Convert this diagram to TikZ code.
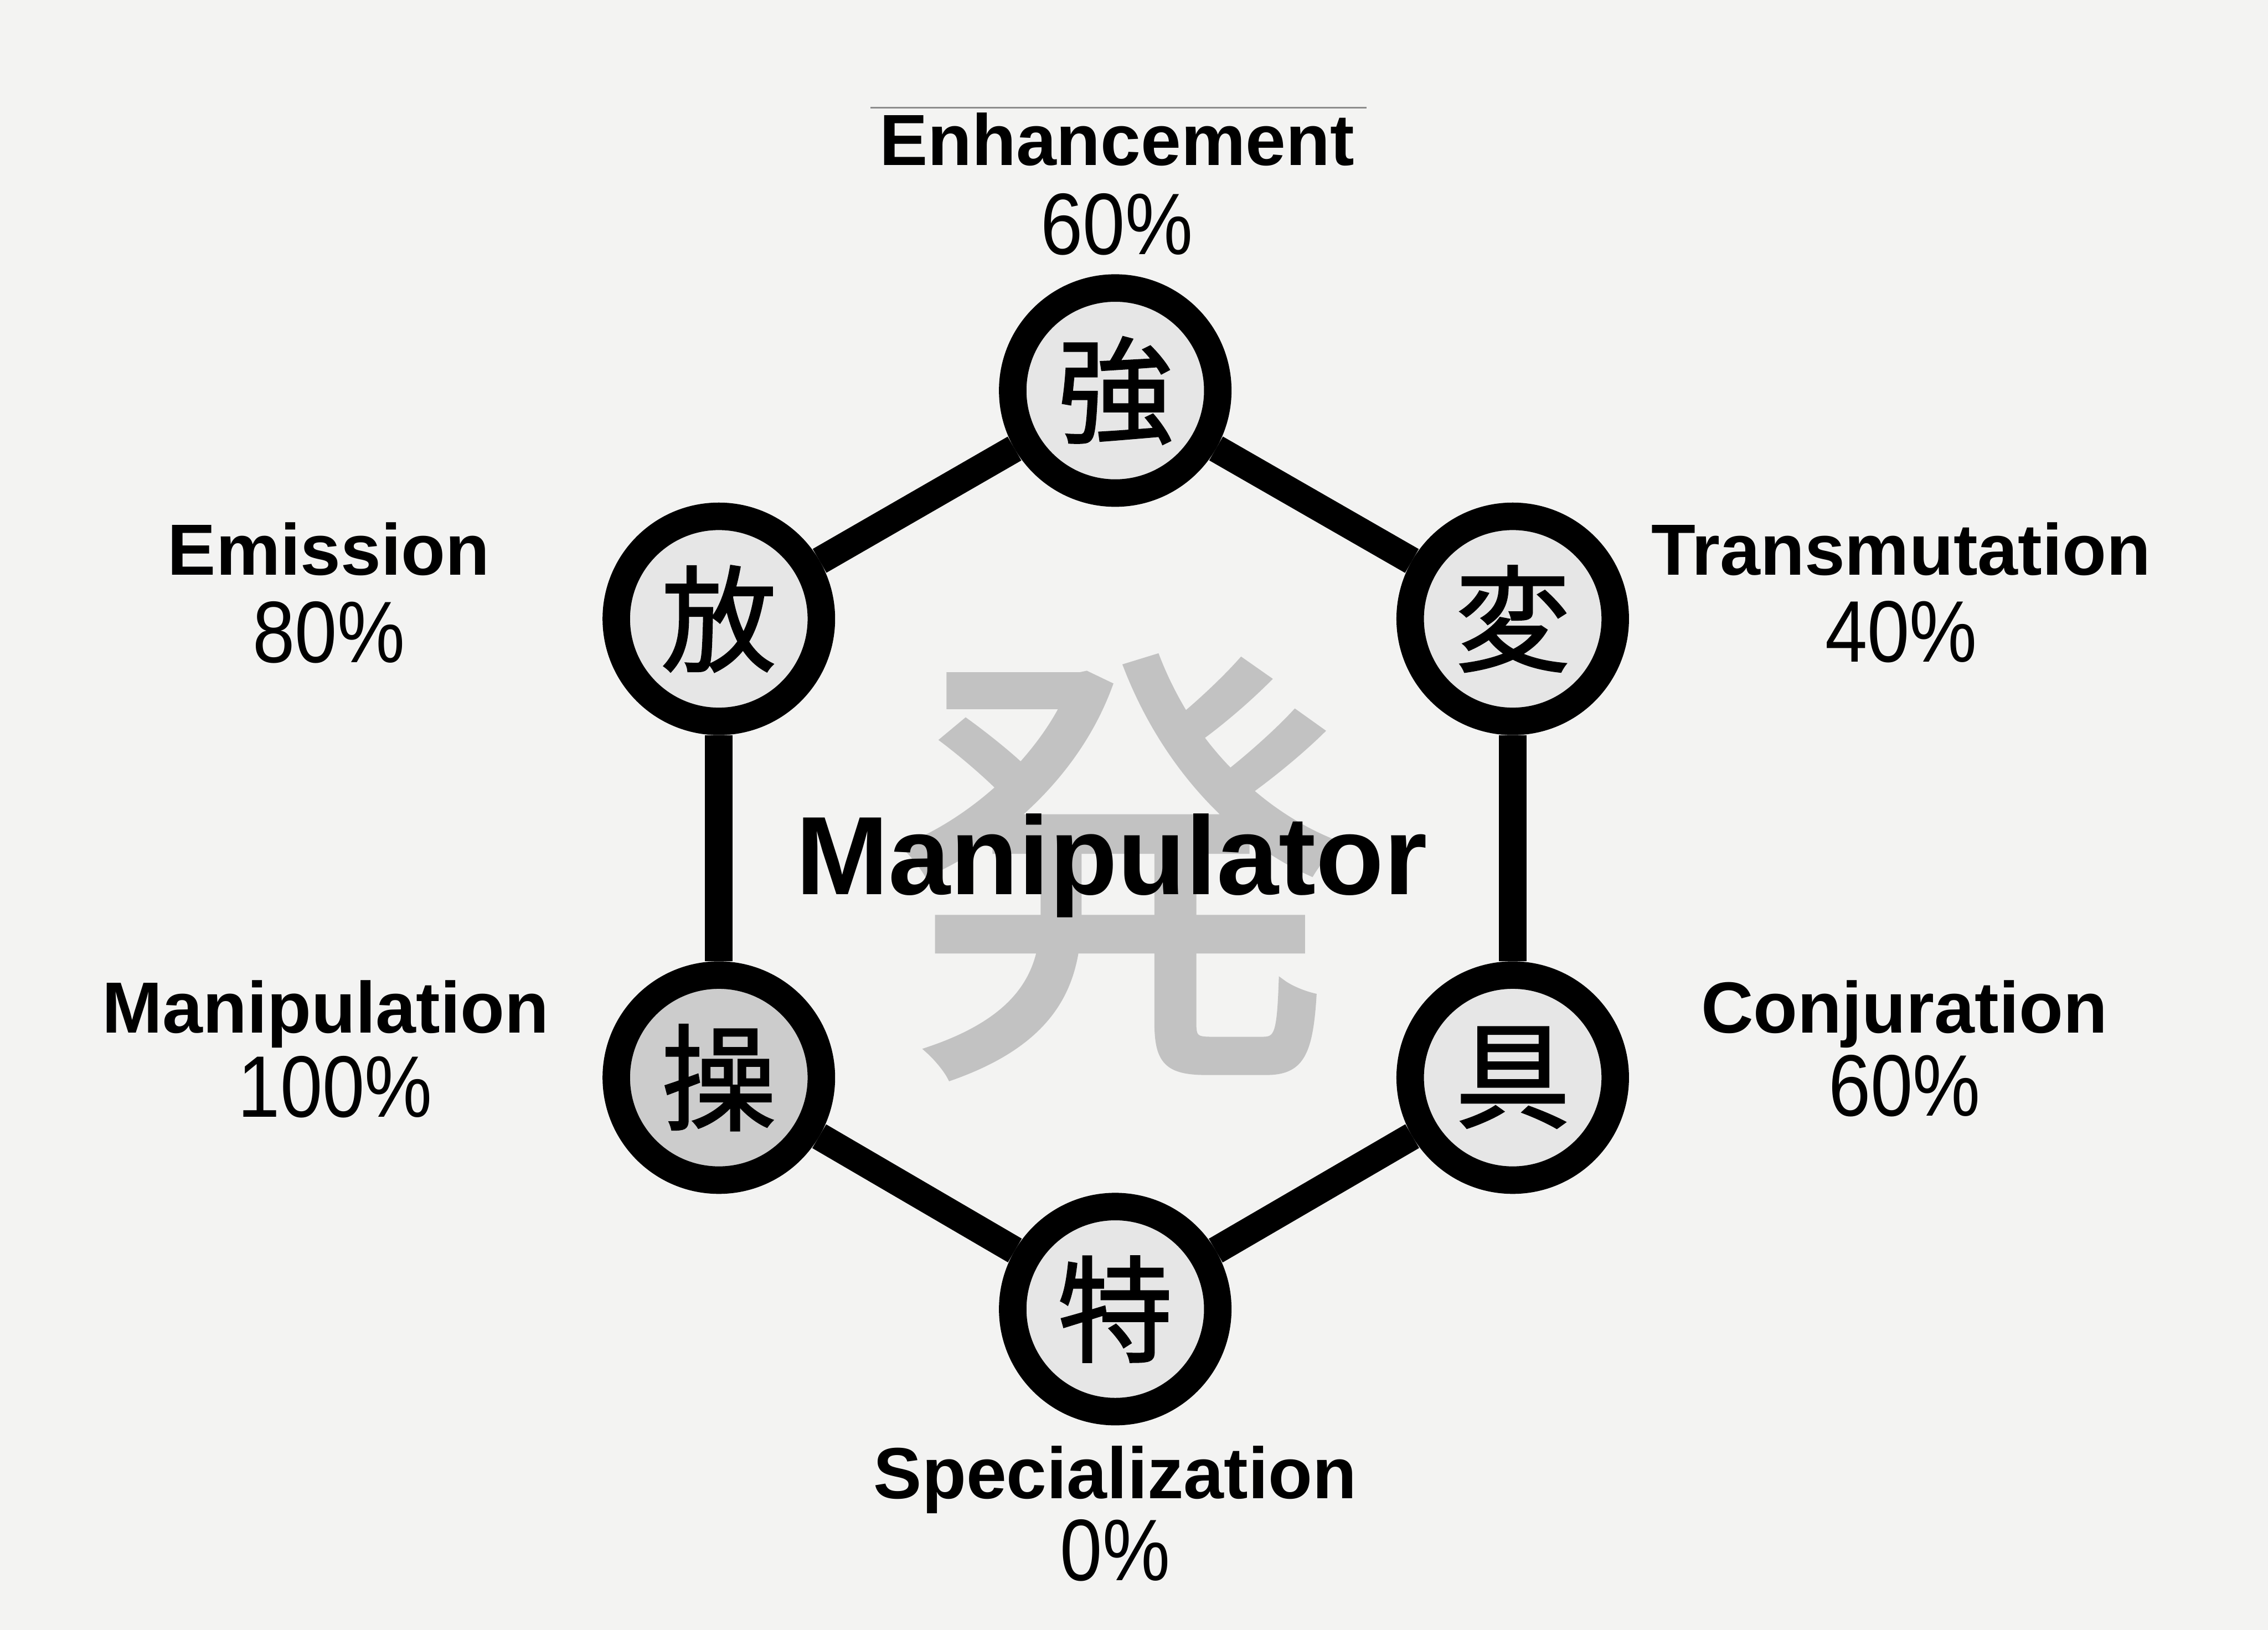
\documentclass[tikz,border=0pt]{standalone}
\usepackage{fontspec}
\setmainfont{Liberation Sans}
\newfontfamily\cjkfont[FakeBold=1.5]{Noto Sans CJK JP}
\newfontfamily\pctfont[FakeStretch=0.87]{Liberation Sans}
\usetikzlibrary{positioning}
\definecolor{paper}{RGB}{243, 243, 242}
\definecolor{ringfill}{RGB}{230, 230, 230}
\definecolor{ringdark}{RGB}{204, 204, 204}
\definecolor{hatsugray}{RGB}{194, 194, 194}
\definecolor{rulegray}{RGB}{140, 140, 140}

\begin{document}
\begin{tikzpicture}[
    ring/.style={
        circle,
        draw=black,
        line width=5.2mm,
        fill=ringfill,
        minimum size=3.88cm,
        inner sep=0pt,
        font=\cjkfont\fontsize{62pt}{62pt}\selectfont
    },
    darkring/.style={ring, fill=ringdark},
    link/.style={draw=black, line width=5.2mm},
    typetitle/.style={anchor=base, inner sep=0pt, font=\bfseries\fontsize{39pt}{39pt}\selectfont},
    pct/.style={inner sep=0pt, font=\pctfont\fontsize{47pt}{47pt}\selectfont}
]

\fill[paper] (0,0) rectangle (42.91,30.84);
\draw[rulegray, line width=0.3mm] (16.47,28.80) -- (25.85,28.80);

% centre
\node[text=hatsugray, inner sep=0pt, font=\cjkfont\fontsize{245pt}{245pt}\selectfont] (hatsu) at (21.20,14.43) {発};
\node[anchor=base, inner sep=0pt, font=\bfseries\fontsize{60pt}{60pt}\selectfont] (type) at (21.03,13.92) {Manipulator};

% hexagon
\node[ring] (str) at (21.10,23.45) {強};
\node[ring] (emi) at (13.60,19.13) {放};
\node[ring] (tra) at (28.62,19.13) {変};
\node[darkring] (man) at (13.60,10.45) {操};
\node[ring] (con) at (28.62,10.45) {具};
\node[ring] (spe) at (21.10,6.07) {特};

\draw[link] (str) -- (emi);
\draw[link] (str) -- (tra);
\draw[link] (emi) -- (man);
\draw[link] (tra) -- (con);
\draw[link] (man) -- (spe);
\draw[link] (con) -- (spe);

% labels
\node[typetitle] (strT) at (21.13,27.71) {Enhancement};
\node[pct, below=1.68cm of strT.base, anchor=base] (strP) {60\%};
\node[typetitle] (emiT) at (6.22,19.96) {Emission};
\node[pct, below=1.66cm of emiT.base, anchor=base] (emiP) {80\%};
\node[typetitle] (traT) at (35.97,19.96) {Transmutation};
\node[pct, below=1.64cm of traT.base, anchor=base] (traP) {40\%};
\node[typetitle] (manT) at (6.16,11.30) {Manipulation};
\node[pct, below=1.60cm of manT.base, anchor=base, xshift=0.18cm] (manP) {100\%};
\node[typetitle] (conT) at (36.03,11.30) {Conjuration};
\node[pct, below=1.58cm of conT.base, anchor=base] (conP) {60\%};
\node[typetitle] (speT) at (21.10,2.49) {Specialization};
\node[pct, below=1.55cm of speT.base, anchor=base] (speP) {0\%};

\end{tikzpicture}
\end{document}
